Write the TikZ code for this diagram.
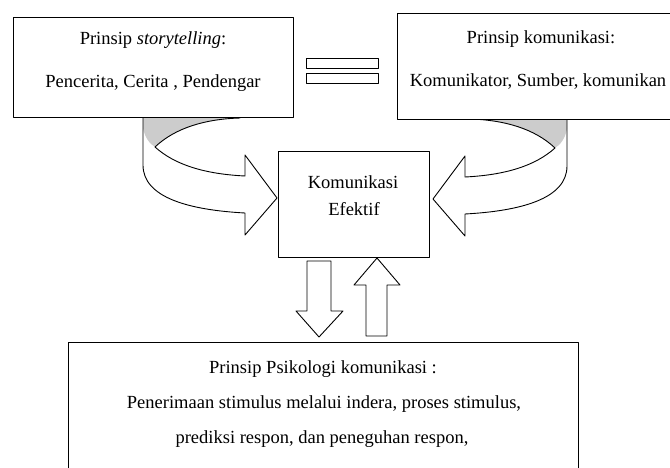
\documentclass[tikz,border=0pt]{standalone}
\usepackage{fontspec}
\setmainfont{Liberation Serif}
\tikzset{
  box/.style={draw,line width=1pt,fill=white,inner sep=0pt},
  txt/.style={inner sep=0pt,anchor=base,font=\fontsize{18.5}{22}\selectfont},
  band/.style={draw,line width=0.9pt},
}
\begin{document}
\begin{tikzpicture}[line cap=round,line join=round,x=1pt,y=-1pt]
\useasboundingbox (0,0) rectangle (670,467);
\clip (0,0) rectangle (670,467);
%
\begin{scope}
\fill[black!20] (143,118) -- (143,128) .. controls (145,138) and (150,144) .. (155,147)
  .. controls (175,128) and (205,119) .. (240,118) -- cycle;
\draw[band] (240,118) .. controls (205,119) and (175,128) .. (155,147)
  .. controls (175,165) and (205,174) .. (245,176) -- (245,155) -- (277,198) -- (245,235) -- (245,213)
  .. controls (190,210) and (143,198) .. (143,165) -- (143,118);
\end{scope}
%
\begin{scope}[shift={(710,1)},xscale=-1]
\fill[black!20] (143,118) -- (143,128) .. controls (145,138) and (150,144) .. (155,147)
  .. controls (175,128) and (205,119) .. (240,118) -- cycle;
\draw[band] (240,118) .. controls (205,119) and (175,128) .. (155,147)
  .. controls (175,165) and (205,174) .. (245,176) -- (245,155) -- (277,198) -- (245,235) -- (245,213)
  .. controls (190,210) and (143,198) .. (143,165) -- (143,118);
\end{scope}
%
\node[box,minimum width=280,minimum height=100] (story) at (153,67) {};
\node[box,minimum width=286,minimum height=106] (komu) at (540,66) {};
\node[box,minimum width=151,minimum height=106] (efek) at (353.5,204) {};
\node[box,minimum width=510,minimum height=143] (psiko) at (323,413.5) {};
%
\node[txt] (storyA) at (153,44) {Prinsip \textit{storytelling}:};
\node[txt] (storyB) at (153,87) {Pencerita, Cerita , Pendengar};
\node[txt] (komuA) at (541,43) {Prinsip komunikasi:};
\node[txt] (komuB) at (538,86) {Komunikator, Sumber, komunikan};
\node[txt] (efekA) at (353,188) {Komunikasi};
\node[txt] (efekB) at (354,215) {Efektif};
\node[txt] (psikoA) at (323,373) {Prinsip Psikologi komunikasi :};
\node[txt] (psikoB) at (324,408) {Penerimaan stimulus melalui indera, proses stimulus,};
\node[txt] (psikoC) at (322,443) {prediksi respon, dan peneguhan respon,};
%
% sama dengan
\draw[band] (306,58) rectangle (378,68);
\draw[band] (306,73) rectangle (378,83);
%
% panah turun dan naik
\draw[band] (307,261) -- (331,261) -- (331,311) -- (343,311) -- (319,337) -- (296,311) -- (307,311) -- cycle;
\draw[band] (377,258) -- (400,285) -- (387,285) -- (387,336) -- (366,336) -- (366,285) -- (354,285) -- cycle;
\end{tikzpicture}
\end{document}
